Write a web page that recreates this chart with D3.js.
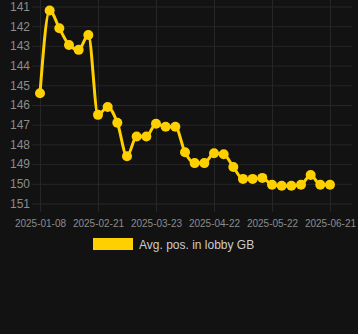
<!DOCTYPE html>
<html>
<head>
<meta charset="utf-8">
<script src="https://cdn.jsdelivr.net/npm/d3@7"></script>
<style>
	html, body { margin: 0; padding: 0; background: #121212; }
	svg { display: block; font-family: Arial, "Liberation Sans", sans-serif; }
</style>
</head>
<body>
<div id="chart"></div>
<script>
const dates = [
	'2025-01-08', '2025-01-15', '2025-01-22', '2025-01-29', '2025-02-05', '2025-02-12',
	'2025-02-21', '2025-02-26', '2025-03-03', '2025-03-08', '2025-03-13', '2025-03-18',
	'2025-03-23', '2025-03-28', '2025-04-02', '2025-04-07', '2025-04-12', '2025-04-17',
	'2025-04-22', '2025-04-27', '2025-05-02', '2025-05-07', '2025-05-12', '2025-05-17',
	'2025-05-22', '2025-05-27', '2025-06-01', '2025-06-06', '2025-06-11', '2025-06-16',
	'2025-06-21'
];
const positions = [
	145.4, 141.2, 142.1, 142.95, 143.2, 142.45,
	146.5, 146.1, 146.9, 148.6, 147.6, 147.6,
	146.95, 147.1, 147.1, 148.4, 148.95, 148.95,
	148.45, 148.5, 149.15, 149.75, 149.75, 149.7,
	150.05, 150.1, 150.1, 150.05, 149.55, 150.05,
	150.05
];
const yTicks = [141, 142, 143, 144, 145, 146, 147, 148, 149, 150, 151];
const xTickLabels = ['2025-01-08', '2025-02-21', '2025-03-23', '2025-04-22', '2025-05-22', '2025-06-21'];
const seriesName = 'Avg. pos. in lobby GB';

const width = 358, height = 334;
const lineColor = '#ffd000';
const gridColor = '#262626';

const svg = d3.select('#chart').append('svg')
	.attr('width', width)
	.attr('height', height);

svg.append('rect').attr('width', width).attr('height', height).attr('fill', '#121212');

const x = d3.scalePoint().domain(dates).range([40, 330]);
// lower rank number on top
const y = d3.scaleLinear().domain([141, 151]).range([6.5, 203.5]);

// horizontal grid + y labels
const yAxis = svg.append('g')
	.attr('transform', 'translate(40,0)')
	.call(d3.axisLeft(y).tickValues(yTicks).tickSize(-312).tickPadding(10).tickFormat(d3.format('d')));
yAxis.select('.domain').remove();
yAxis.selectAll('.tick line').attr('stroke', gridColor).attr('x1', -8);
yAxis.selectAll('.tick text').attr('fill', '#8c8c8c').attr('font-size', 12);

// vertical grid + x labels
const xAxis = svg.append('g')
	.attr('transform', 'translate(0,212)')
	.call(d3.axisBottom(x).tickValues(xTickLabels).tickSize(0).tickPadding(8));
xAxis.select('.domain').remove();
xAxis.selectAll('.tick line').attr('stroke', gridColor).attr('y1', -212).attr('y2', 0);
xAxis.selectAll('.tick text').attr('fill', '#8c8c8c').attr('font-size', 10);

const data = dates.map((d, i) => ({ date: d, value: positions[i] }));

const line = d3.line()
	.x(d => x(d.date))
	.y(d => y(d.value))
	.curve(d3.curveMonotoneX);

svg.append('path')
	.datum(data)
	.attr('fill', 'none')
	.attr('stroke', lineColor)
	.attr('stroke-width', 3)
	.attr('d', line);

svg.append('g').selectAll('circle')
	.data(data)
	.join('circle')
	.attr('cx', d => x(d.date))
	.attr('cy', d => y(d.value))
	.attr('r', 5)
	.attr('fill', lineColor);

// legend
const legend = svg.append('g').attr('transform', 'translate(93,238)');
legend.append('rect')
	.attr('width', 40)
	.attr('height', 12)
	.attr('fill', lineColor);
legend.append('text')
	.attr('x', 46)
	.attr('y', 10.5)
	.attr('fill', '#cccccc')
	.attr('font-size', 12)
	.text(seriesName);
</script>
</body>
</html>
